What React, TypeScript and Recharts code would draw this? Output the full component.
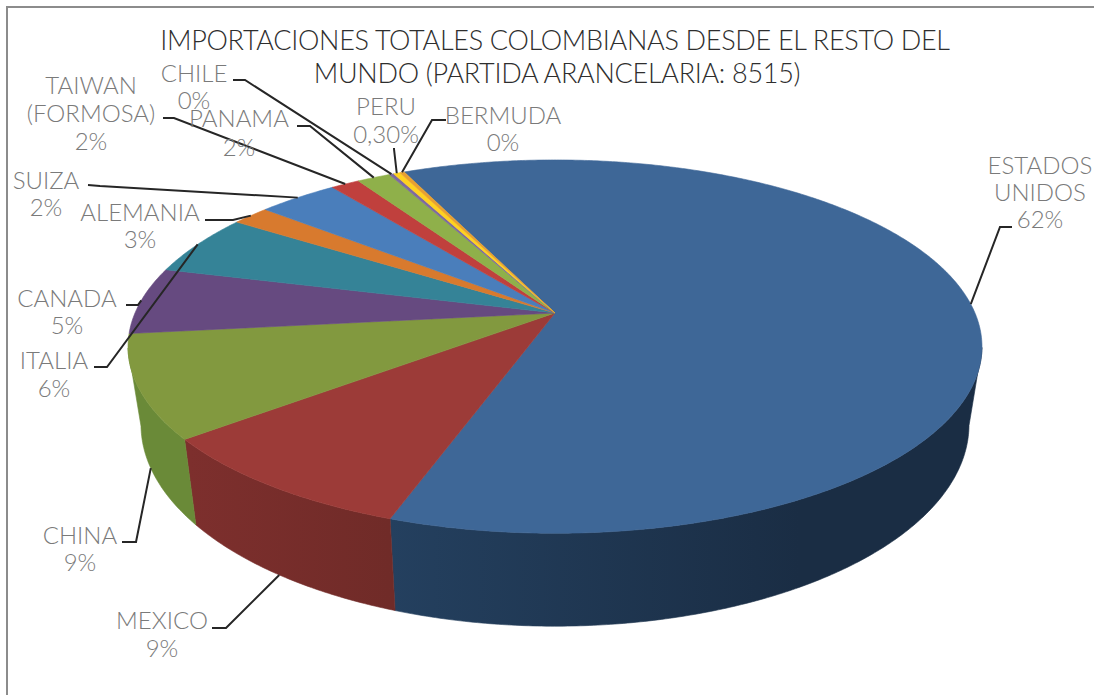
import { PieChart, Pie } from "recharts";

const names = [
  ["ESTADOS", "UNIDOS"], ["MEXICO"], ["CHINA"], ["CANADA"], ["ITALIA"], ["ALEMANIA"],
  ["SUIZA"], ["TAIWAN", "(FORMOSA)"], ["PANAMA"], ["CHILE"], ["PERU"], ["BERMUDA"],
];
// slice sizes as drawn in the picture
const values = [62.1, 9.03, 8.9, 5.8, 5.3, 1.7, 3.6, 1.3, 1.5, 0.2, 0.3, 0.2];
// percentages as printed on the labels
const percentLabels = ["62%", "9%", "9%", "5%", "6%", "3%", "2%", "2%", "2%", "0%", "0,30%", "0%"];
const topColors = ["#3e6797", "#9c3b38", "#82993f", "#664a80", "#358397", "#d87a2e", "#4a7ebb", "#c0403d", "#8fb04a", "#7d6aa0", "#ffd21f", "#e8a030"];
const wallColors = ["url(#wallBlue)", "url(#wallRed)", "#6a8a38", "#4b365f", "#276272", "#a05a20", "#375e8c", "#8f2f2d", "#6a8337", "#685980", "#bd9c17", "#a8701f"];

// where each label sits: text centre x, first baseline y, line gap, and the leader's elbow
const labelLayout = [
  { x: 1040, y: 174, gap: 27, from: [1012, 227], elbow: [1000, 227] },
  { x: 162, y: 629, gap: 28, from: [212, 628], elbow: [226, 628] },
  { x: 80, y: 544, gap: 27, from: [122, 542], elbow: [136, 542] },
  { x: 67, y: 307, gap: 27, from: [126, 305], elbow: [138, 305] },
  { x: 54, y: 369, gap: 28, from: [94, 367], elbow: [107, 367] },
  { x: 140, y: 221, gap: 27, from: [205, 220], elbow: [233, 220] },
  { x: 46, y: 189, gap: 27, from: [88, 185], elbow: [100, 186] },
  { x: 91, y: 94, gap: 28, from: [163, 118], elbow: [174, 118] },
  { x: 239, y: 127, gap: 29, from: [297, 126], elbow: [310, 126] },
  { x: 194, y: 82, gap: 27, from: [233, 80], elbow: [245, 80] },
  { x: 386, y: 115, gap: 28, from: [394, 148], elbow: [394, 149] },
  { x: 503, y: 124, gap: 27, from: [446, 120], elbow: [432, 120] },
];
// leaders that run to the bottom of the wall instead of the top rim
const bottomLeaders = [1, 2];

const rows = values.map((value, i) => ({ name: names[i].join(" "), value, fill: topColors[i] }));
const wallRows = values.map((value, i) => ({ name: names[i].join(" "), value, fill: wallColors[i] }));

const WIDTH = 1094;
const HEIGHT = 695;
const CX = 555;
const CY = 313;
const RADIUS = 420;
const START = 114.7;

// perspective: the far side of the disc shrinks, so the apex sits above the ellipse centre
const TILT = 0.43;
const K = 0.18;
const project = (angle: number) => {
  const a = (angle * Math.PI) / 180;
  const u = Math.cos(a);
  const v = Math.sin(a);
  const w = 1 + K * v;
  return [CX + (RADIUS * u) / w, CY - (RADIUS * TILT * v) / w];
};
const toBottom = ([x, y]: number[]) => [CX + (415 / 428) * (x - CX), 425 + (202 / 187) * (y - 347)];

const arcAngles = (start: number, end: number) => {
  const steps = Math.max(2, Math.ceil(Math.abs(end - start) / 0.5));
  const out = [];
  for (let i = 0; i <= steps; i++) out.push(start + ((end - start) * i) / steps);
  return out;
};
const toPath = (pts: number[][]) => "M" + pts.map((p) => `${p[0].toFixed(2)},${p[1].toFixed(2)}`).join("L") + "Z";

const TopSlice = (props: any) => {
  const pts = [[CX, CY], ...arcAngles(props.startAngle, props.endAngle).map(project)];
  return <path d={toPath(pts)} fill={props.fill} stroke={props.fill} strokeWidth={0.6} />;
};

// only the near part of the rim has a visible wall
const WallSlice = (props: any) => {
  const near = arcAngles(props.startAngle, props.endAngle).filter((a) => Math.sin((a * Math.PI) / 180) < -K);
  if (near.length < 2) return null;
  const top = near.map(project);
  const bottom = top.map(toBottom).reverse();
  return <path d={toPath([...top, ...bottom])} fill={props.fill} stroke={props.fill} strokeWidth={0.6} />;
};

const renderLabel = (props: any) => {
  const i = props.index;
  const place = labelLayout[i];
  const rim = project(props.midAngle);
  const end = bottomLeaders.includes(i) ? toBottom(rim) : rim;
  const lines = [...names[i], percentLabels[i]];
  return (
    <g key={i}>
      <polyline
        points={[place.from, place.elbow, end].map((p) => p.join(",")).join(" ")}
        fill="none"
        stroke="#262626"
        strokeWidth={2}
      />
      <text textAnchor="middle" fontFamily="Lato, 'Open Sans', sans-serif" fontWeight={300} fontSize={24} fill="#7a7a7a">
        {lines.map((line, n) => (
          <tspan key={n} x={place.x} y={place.y + n * place.gap}>{line}</tspan>
        ))}
      </text>
    </g>
  );
};

export default function App() {
  return (
    <div style={{ position: "absolute", left: 0, top: 0, width: WIDTH, height: HEIGHT, background: "#fff", overflow: "hidden" }}>
      <div style={{ position: "absolute", left: 6, top: 6, width: WIDTH, height: HEIGHT, borderLeft: "2px solid #8c8c8c", borderTop: "2px solid #8c8c8c" }} />
      <div style={{ position: "absolute", left: 0, top: 0 }}>
        <PieChart width={WIDTH} height={HEIGHT} margin={{ top: 0, right: 0, bottom: 0, left: 0 }}>
          <defs>
            <linearGradient id="wallBlue" gradientUnits="userSpaceOnUse" x1="390" y1="0" x2="800" y2="0">
              <stop offset="0" stopColor="#24405f" />
              <stop offset="1" stopColor="#1a2d44" />
            </linearGradient>
            <linearGradient id="wallRed" gradientUnits="userSpaceOnUse" x1="190" y1="0" x2="390" y2="0">
              <stop offset="0" stopColor="#7d2f2d" />
              <stop offset="1" stopColor="#702b28" />
            </linearGradient>
          </defs>
          <Pie
            data={wallRows}
            dataKey="value"
            cx={CX}
            cy={CY}
            outerRadius={RADIUS}
            startAngle={START}
            endAngle={START - 360}
            shape={WallSlice}
            isAnimationActive={false}
          />
          <Pie
            data={rows}
            dataKey="value"
            cx={CX}
            cy={CY}
            outerRadius={RADIUS}
            startAngle={START}
            endAngle={START - 360}
            shape={TopSlice}
            label={renderLabel}
            labelLine={false}
            isAnimationActive={false}
          />
          <text textAnchor="middle" fontFamily="Lato, 'Open Sans', sans-serif" fontWeight={300} fontSize={27} letterSpacing={-0.3} fill="#2e2e2e">
            <tspan x={555} y={50}>IMPORTACIONES TOTALES COLOMBIANAS DESDE EL RESTO DEL</tspan>
            <tspan x={557} y={83}>MUNDO (PARTIDA ARANCELARIA: 8515)</tspan>
          </text>
        </PieChart>
      </div>
    </div>
  );
}
